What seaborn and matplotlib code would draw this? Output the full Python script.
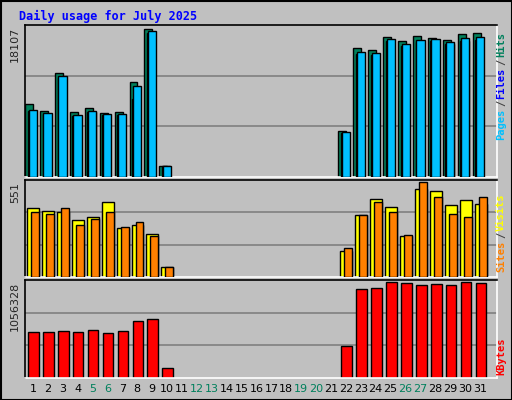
import numpy as np
import matplotlib
matplotlib.use("Agg")
import matplotlib.pyplot as plt
import seaborn as sns

sns.set_style("white")
plt.rcParams['font.family'] = ['DejaVu Sans Mono', 'DejaVu Sans']

days = [1,2,3,4,5,6,7,8,9,10,22,23,24,25,26,27,28,29,30,31]
hits = [8990,8130,12690,8010,8500,7880,8010,11580,18107,1360,5670,15770,15520,17120,16630,17250,17000,16750,17490,17620]
files = [8250,7880,12320,7640,8130,7760,7760,11090,17860,1360,5540,15280,15150,16880,16260,16750,16880,16510,17000,17120]
pages = [8100,7700,12100,7500,8000,7600,7600,9600,17600,1300,5400,15000,14900,16600,16000,16500,16600,16300,16700,16800]
visits = [403,385,379,332,350,433,284,302,249,59,148,361,450,409,237,510,498,415,444,421]
sites = [379,367,403,302,338,379,290,320,237,59,166,361,438,379,243,551,462,367,350,462]
kbytes = [505700,505700,516900,505700,528100,494400,516900,618000,640500,112400,348300,966400,977600,1045000,1033800,1011300,1022600,1011300,1045000,1033800]
weekend = [5,6,12,13,19,20,26,27]
title = "Daily usage for July 2025"

W, H = 512, 400
fig = plt.figure(figsize=(W/100, H/100), dpi=100, facecolor="#C0C0C0")
BG = "#C0C0C0"

def add_panel(top, bot):
    ax = fig.add_axes([25/W, 1-bot/H, 472/W, (bot-top)/H])
    ax.set_facecolor(BG)
    ax.set_xlim(0.46, 32.1)
    for s in ax.spines.values():
        s.set_color("black"); s.set_linewidth(1.2)
    ax.spines['right'].set_color("white"); ax.spines['bottom'].set_color("white")
    ax.set_xticks([]); ax.set_yticks([])
    return ax

def grid(ax, ymax):
    for f in (1/3, 2/3):
        ax.axhline(ymax*f, color="#808080", lw=1.2, zorder=0)

d = np.array(days)
ek = dict(edgecolor="black", linewidth=1)

ax1 = add_panel(25, 177)
ym = max(hits)*151/147
ax1.set_ylim(0, ym); grid(ax1, ym)
ax1.bar(d-0.53, hits, width=0.53, align="edge", color="#00805C", zorder=2, **ek)
ax1.bar(d-0.36, pages, width=0.55, align="edge", color="#0000FF", zorder=3, **ek)
ax1.bar(d-0.30, files, width=0.55, align="edge", color="#00C0FF", zorder=4, **ek)

ax2 = add_panel(180, 277)
ym = max(sites)*95/93
ax2.set_ylim(0, ym); grid(ax2, ym)
ax2.bar(d-0.4, visits, width=0.8, align="edge", color="#FFFF00", zorder=2, **ek)
ax2.bar(d-0.13, sites, width=0.53, align="edge", color="#FF8000", zorder=3, **ek)

ax3 = add_panel(280, 378)
ym = max(kbytes)*96/94
ax3.set_ylim(0, ym); grid(ax3, ym)
sns.barplot(x=d-0.33+0.355, y=kbytes, native_scale=True, width=0.71, color="#FF0000",
            saturation=1, ax=ax3, zorder=2, **ek)
ax3.set_xlim(0.46, 32.1); ax3.set_xticks([]); ax3.set_yticks([])
ax3.set_xlabel(""); ax3.set_ylabel("")

for day in range(1, 32):
    x = (33 + 14.9*(day-1))/W
    fig.text(x, 1-389/H, str(day), ha="center", va="center", fontsize=8,
             family="DejaVu Sans", color="#00805C" if day in weekend else "black")

fig.text(19/W, 1-16/H, title, fontsize=8.5, weight="bold", color="#0000FF", va="center")

def left(label, top):
    fig.text(15/W, 1-top/H, label, rotation=90, ha="center", va="top", fontsize=8, family="DejaVu Sans")
left("18107", 27); left("551", 182); left("1056328", 282)

def right(parts, bottom):
    y = bottom
    for txt, col in parts:
        fig.text(501/W, 1-y/H, txt, rotation=90, ha="center", va="bottom", fontsize=7.5,
                 weight="bold", color=col)
        y -= len(txt)*6.4 + 1.5
right([("Pages", "#00C0FF"), ("/", "#404040"), ("Files", "#0000FF"), ("/", "#404040"), ("Hits", "#00805C")], 140)
right([("Sites", "#FF8000"), ("/", "#404040"), ("Visits", "#FFFF00")], 272)
right([("KBytes", "#FF0000")], 375)

fig.patches.append(plt.Rectangle((0.5/W, 0.5/H), 1-1/W, 1-1/H, transform=fig.transFigure,
                                 fill=False, edgecolor="black", lw=1.5))
fig.savefig("out.png", dpi=100, facecolor=fig.get_facecolor())
